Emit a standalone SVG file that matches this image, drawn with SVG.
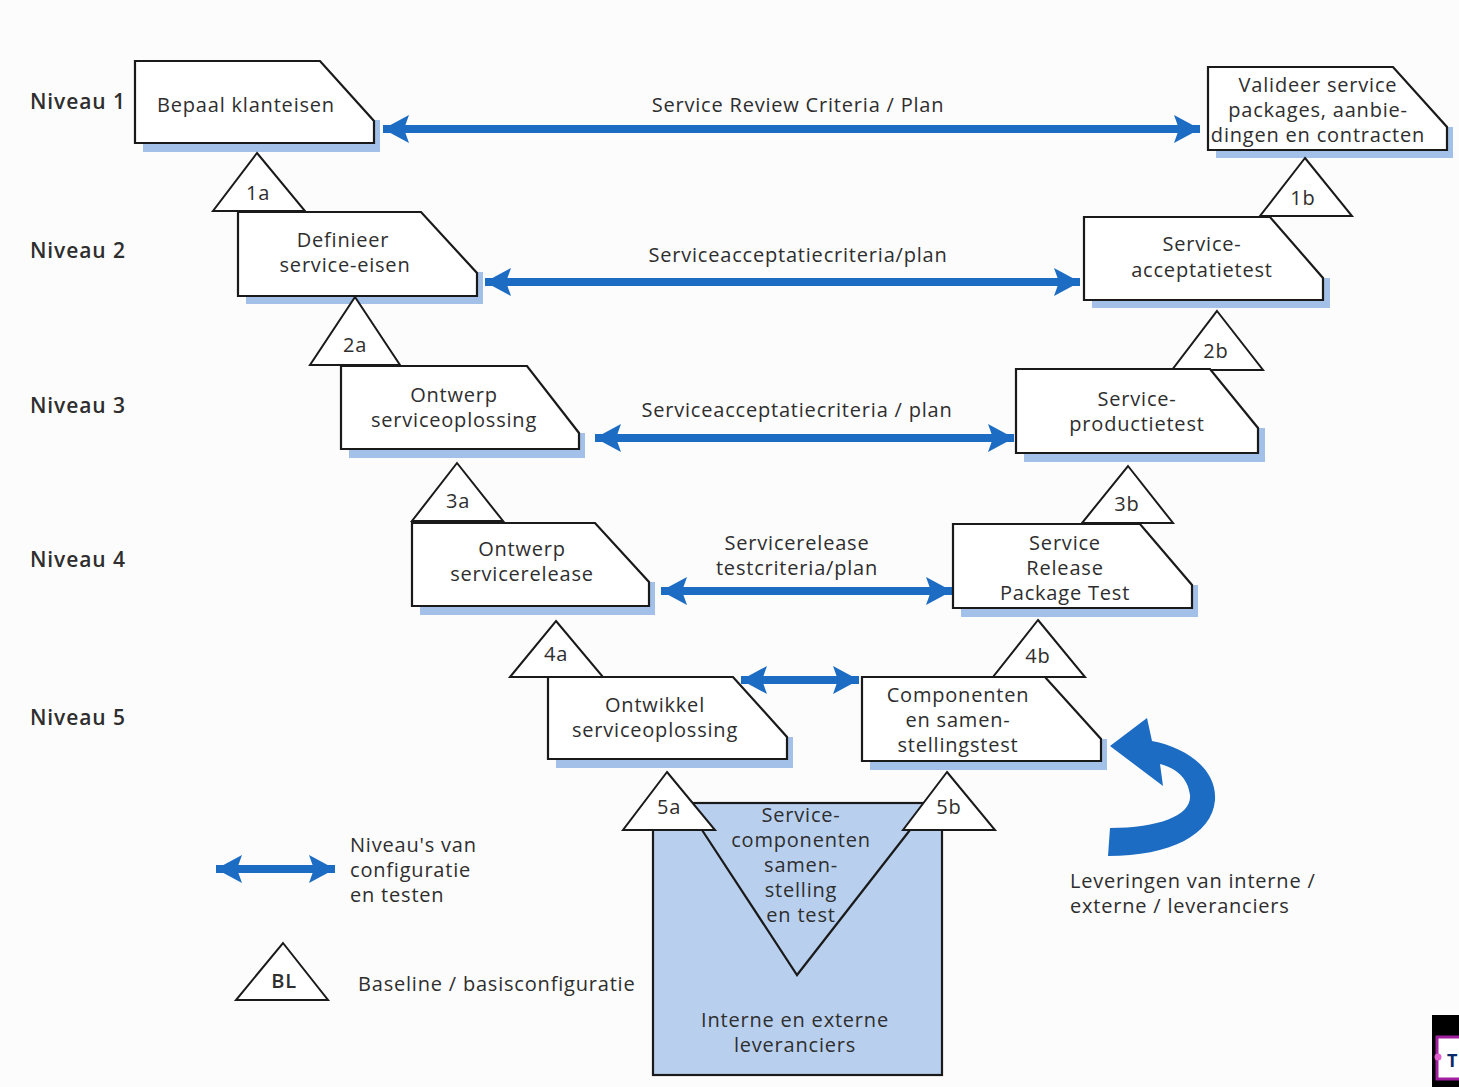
<svg xmlns="http://www.w3.org/2000/svg" width="1459" height="1087" viewBox="0 0 1459 1087">
<defs>
<style>
text{font-family:"Open Sans","Noto Sans","Liberation Sans",sans-serif;font-size:20px;letter-spacing:0.8px;fill:#2e2e2e}
.c{text-anchor:middle}
.lv{font-size:21px;font-weight:600;letter-spacing:0.9px}
.box{fill:#ffffff;stroke:#1a1a1a;stroke-width:2.2}
.sh{fill:#a3c0e8}
.tri{fill:#ffffff;stroke:#1a1a1a;stroke-width:2}
.arr{stroke:#1c6cc4;stroke-width:8;fill:none;marker-start:url(#ah);marker-end:url(#ah)}
</style>
<marker id="ah" markerUnits="userSpaceOnUse" markerWidth="28" markerHeight="30" refX="26" refY="15" orient="auto-start-reverse">
<path d="M0,1 L26,15 L0,29 L5,15 Z" fill="#1c6cc4"/>
</marker>
</defs>
<rect width="1459" height="1087" fill="#fcfcfc"/>

<!-- level labels -->
<g id="labels">
<text class="lv" x="30" y="109">Niveau 1</text>
<text class="lv" x="30" y="258">Niveau 2</text>
<text class="lv" x="30" y="413">Niveau 3</text>
<text class="lv" x="30" y="567">Niveau 4</text>
<text class="lv" x="30" y="725">Niveau 5</text>
</g>

<!-- connectors -->
<g id="connectors">
<path class="arr" d="M383,129 L1200,129"/>
<path class="arr" d="M485,282 L1080,282"/>
<path class="arr" d="M595,438 L1014,438"/>
<path class="arr" d="M661,591 L952,591"/>
<path class="arr" d="M741,680 L859,680"/>
<text class="c" x="798" y="112">Service Review Criteria / Plan</text>
<text class="c" x="798" y="262">Serviceacceptatiecriteria/plan</text>
<text class="c" x="797" y="417">Serviceacceptatiecriteria / plan</text>
<text class="c" x="797" y="550">Servicerelease</text>
<text class="c" x="797" y="575">testcriteria/plan</text>
</g>

<!-- left boxes -->
<g id="n1">
<path class="sh" d="M143,143 H374 V120 H380 V152 H143 Z"/>
<path class="box" d="M135,61 H320 L374,121 V143 H135 Z"/>
<text class="c" x="246" y="112">Bepaal klanteisen</text>
</g>
<g id="t1a">
<path class="tri" d="M257,153 L305,211 H213 Z"/>
<text class="c" x="258" y="200">1a</text>
</g>
<g id="n2">
<path class="sh" d="M246,296 H477 V272 H483 V304 H246 Z"/>
<path class="box" d="M238,212 H421 L477,273 V296 H238 Z"/>
<text class="c" x="343" y="247">Definieer</text>
<text class="c" x="345" y="272">service-eisen</text>
</g>
<g id="t2a">
<path class="tri" d="M355,297 L400,365 H310 Z"/>
<text class="c" x="355" y="352">2a</text>
</g>
<g id="n3">
<path class="sh" d="M349,449 H579 V433 H585 V458 H349 Z"/>
<path class="box" d="M341,366 H527 L579,433 V449 H341 Z"/>
<text class="c" x="454" y="402">Ontwerp</text>
<text class="c" x="454" y="427">serviceoplossing</text>
</g>
<g id="t3a">
<path class="tri" d="M457,463 L503,521 H412 Z"/>
<text class="c" x="458" y="508">3a</text>
</g>
<g id="n4">
<path class="sh" d="M420,606 H649 V582 H655 V615 H420 Z"/>
<path class="box" d="M412,523 H595 L649,582 V606 H412 Z"/>
<text class="c" x="522" y="556">Ontwerp</text>
<text class="c" x="522" y="581">servicerelease</text>
</g>
<g id="t4a">
<path class="tri" d="M556,621 L603,677 H510 Z"/>
<text class="c" x="556" y="661">4a</text>
</g>
<g id="n5">
<path class="sh" d="M556,759 H787 V737 H793 V768 H556 Z"/>
<path class="box" d="M548,677 H733 L787,737 V759 H548 Z"/>
<text class="c" x="655" y="712">Ontwikkel</text>
<text class="c" x="655" y="737">serviceoplossing</text>
</g>

<!-- right boxes -->
<g id="n1b">
<path class="sh" d="M1216,150 H1447 V127 H1453 V158 H1216 Z"/>
<path class="box" d="M1208,67 H1393 L1447,127 V150 H1208 Z"/>
<text class="c" x="1318" y="92">Valideer service</text>
<text class="c" x="1318" y="117">packages, aanbie-</text>
<text class="c" x="1318" y="142">dingen en contracten</text>
</g>
<g id="t1b">
<path class="tri" d="M1305,158 L1352,216 H1260 Z"/>
<text class="c" x="1303" y="205">1b</text>
</g>
<g id="n2b">
<path class="sh" d="M1092,300 H1323 V278 H1330 V308 H1092 Z"/>
<path class="box" d="M1084,217 H1270 L1323,278 V300 H1084 Z"/>
<text class="c" x="1202" y="251">Service-</text>
<text class="c" x="1202" y="277">acceptatietest</text>
</g>
<g id="t2b">
<path class="tri" d="M1217,311 L1263,370 H1172 Z"/>
<text class="c" x="1216" y="358">2b</text>
</g>
<g id="n3b">
<path class="sh" d="M1024,453 H1258 V428 H1265 V462 H1024 Z"/>
<path class="box" d="M1016,369 H1210 L1258,428 V453 H1016 Z"/>
<text class="c" x="1137" y="406">Service-</text>
<text class="c" x="1137" y="431">productietest</text>
</g>
<g id="t3b">
<path class="tri" d="M1128,466 L1173,523 H1082 Z"/>
<text class="c" x="1127" y="511">3b</text>
</g>
<g id="n4b">
<path class="sh" d="M961,608 H1192 V585 H1198 V617 H961 Z"/>
<path class="box" d="M953,524 H1140 L1192,585 V608 H953 Z"/>
<text class="c" x="1065" y="550">Service</text>
<text class="c" x="1065" y="575">Release</text>
<text class="c" x="1065" y="600">Package Test</text>
</g>
<g id="t4b">
<path class="tri" d="M1038,620 L1085,677 H993 Z"/>
<text class="c" x="1038" y="663">4b</text>
</g>
<g id="n5b">
<path class="sh" d="M870,761 H1101 V739 H1107 V770 H870 Z"/>
<path class="box" d="M862,677 H1045 L1101,739 V761 H862 Z"/>
<text class="c" x="958" y="702">Componenten</text>
<text class="c" x="958" y="727">en samen-</text>
<text class="c" x="958" y="752">stellingstest</text>
</g>

<!-- suppliers block -->
<g id="suppliers">
<rect x="653" y="803" width="289" height="272" fill="#b8d0ee" stroke="#1a1a1a" stroke-width="2.2"/>
<path d="M702,830 L797,975 L910,830" fill="none" stroke="#1a1a1a" stroke-width="2.2"/>
<text class="c" x="801" y="822">Service-</text>
<text class="c" x="801" y="847">componenten</text>
<text class="c" x="801" y="872">samen-</text>
<text class="c" x="801" y="897">stelling</text>
<text class="c" x="801" y="922">en test</text>
<text class="c" x="795" y="1027">Interne en externe</text>
<text class="c" x="795" y="1052">leveranciers</text>
</g>
<g id="t5a">
<path class="tri" d="M667,772 L715,830 H623 Z"/>
<text class="c" x="669" y="814">5a</text>
</g>
<g id="t5b">
<path class="tri" d="M947,772 L995,830 H903 Z"/>
<text class="c" x="949" y="814">5b</text>
</g>

<!-- deliveries curved arrow -->
<g id="deliveries">
<path d="M1110,828 C1160,828 1192,815 1190,795 C1188,777 1175,768 1160,764 L1163,786 L1110,746 L1147,718 L1152,741 C1188,748 1217,770 1215,800 C1212,835 1170,856 1108,856 Z" fill="#1c6cc4"/>
<text x="1070" y="888">Leveringen van interne /</text>
<text x="1070" y="913">externe / leveranciers</text>
</g>

<!-- legend -->
<g id="legend">
<path class="arr" d="M216,869 L335,869"/>
<text x="350" y="852">Niveau's van</text>
<text x="350" y="877">configuratie</text>
<text x="350" y="902">en testen</text>
<path class="tri" d="M283,943 L328,1000 H236 Z"/>
<text class="c" x="284" y="988" style="font-weight:600">BL</text>
<text x="358" y="991">Baseline / basisconfiguratie</text>
</g>

<g id="corner">
<rect x="1432" y="1015" width="27" height="72" fill="#000"/>
<rect x="1437" y="1037" width="26" height="42" fill="#fff" stroke="#a020a0" stroke-width="3"/>
<circle cx="1438" cy="1057" r="3.5" fill="#e060d0"/>
<text x="1447" y="1067" style="font-weight:700;fill:#0a2a6a;font-size:18px;letter-spacing:0">T</text>
</g>
</svg>
